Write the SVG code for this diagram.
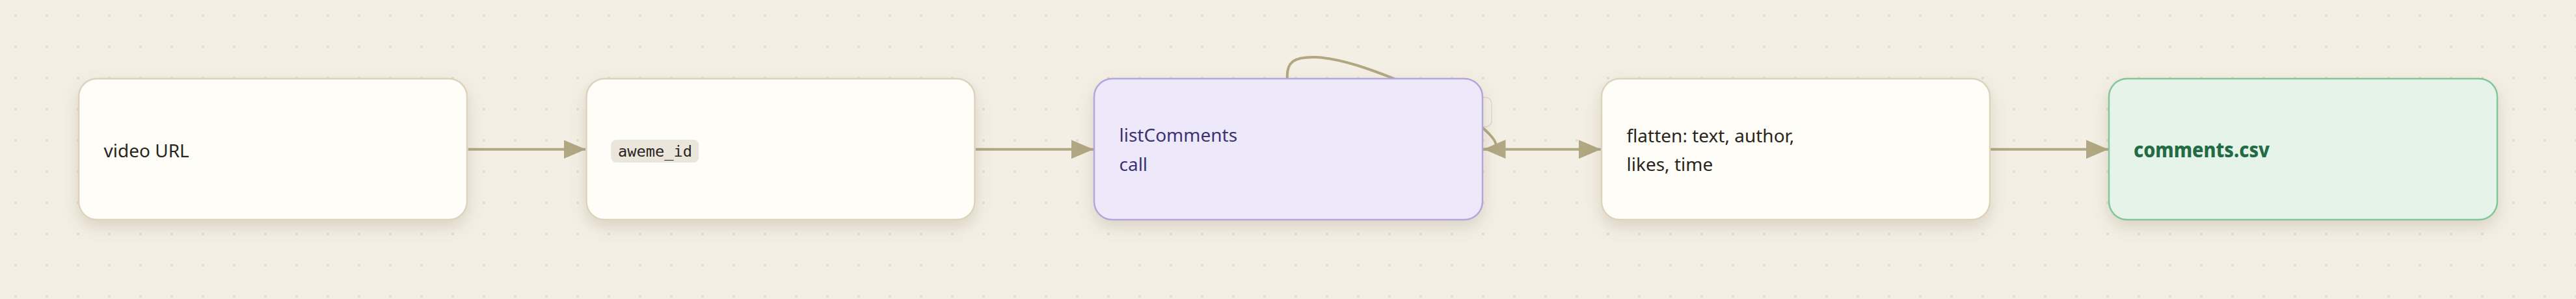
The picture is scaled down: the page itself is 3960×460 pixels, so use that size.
<svg xmlns="http://www.w3.org/2000/svg" width="3960" height="460" viewBox="0 0 3960 460">
  <style>
    .node rect.box { stroke-width: 2.5; }
    .plain rect.box { fill: #fefdf7; stroke: #ddd3bd; }
    .api rect.box { fill: #ede8fa; stroke: #b4a5dc; }
    .out rect.box { fill: #e5f3e9; stroke: #82c69b; }
    .lbl { font-family: "Noto Sans", "Open Sans", "Liberation Sans", sans-serif; font-size: 28px; fill: #2a2520; }
    .api .lbl { fill: #3c3373; }
    .out .lbl { fill: #226b45; font-weight: 800; }
    .code { font-family: "DejaVu Sans Mono", "Liberation Mono", monospace; font-size: 23.7px; fill: #2a2520; }
    .edge { fill: none; stroke: #b1a783; stroke-width: 4; }
  </style>
  <defs>
    <pattern id="dots" width="48" height="48" patternUnits="userSpaceOnUse">
      <circle cx="24" cy="24" r="2" fill="#e0dbcd"/>
    </pattern>
    <filter id="shadow" x="-10%" y="-20%" width="120%" height="160%">
      <feDropShadow dx="0" dy="10" stdDeviation="12" flood-color="#7a6440" flood-opacity="0.2"/>
    </filter>
    <marker id="arrow" markerUnits="userSpaceOnUse" markerWidth="34" markerHeight="29" refX="34" refY="14.5" orient="auto">
      <path d="M0,0 L34,14.5 L0,29 Z" fill="#b1a783"/>
    </marker>
  </defs>

  <rect width="3960" height="460" fill="#f3efe4"/>
  <rect width="3960" height="460" fill="url(#dots)"/>

  <g id="connectors">
    <path class="edge" d="M719.5,229.7 L900.5,229.7" marker-end="url(#arrow)"/>
    <path class="edge" d="M1499.5,229.7 L1681,229.7" marker-end="url(#arrow)"/>
    <rect x="2235" y="150" width="58" height="45" rx="9" fill="#f5f1e7" stroke="#e0d8c5" stroke-width="1.5"/>
    <path class="edge" d="M1979,121 C1977,95 1990,87 2022,88 C2060,89 2110,108 2143,121 C2200,150 2260,180 2282,199 C2294,210 2302,220 2299,226 C2296,229.5 2290,229.5 2280.5,229.5" marker-end="url(#arrow)"/>
    <path class="edge" d="M2280,229.7 L2461,229.7" marker-end="url(#arrow)"/>
    <path class="edge" d="M3060,229.7 L3241,229.7" marker-end="url(#arrow)"/>
  </g>

  <g id="node-video-url" class="node plain">
    <rect class="box" x="121" y="121" width="597" height="217" rx="28" filter="url(#shadow)"/>
    <text class="lbl" x="159.5" y="241.7">video URL</text>
  </g>

  <g id="node-aweme-id" class="node plain">
    <rect class="box" x="901.5" y="121" width="597" height="217" rx="28" filter="url(#shadow)"/>
    <rect x="939.3" y="215" width="135" height="35" rx="8" fill="#ebe6dc"/>
    <text class="code" x="950" y="241">aweme_id</text>
  </g>

  <g id="node-list-comments" class="node api">
    <rect class="box" x="1682" y="121" width="597" height="217" rx="28" filter="url(#shadow)"/>
    <text class="lbl" x="1720.5" y="218.3">listComments</text>
    <text class="lbl" x="1720.5" y="262.7">call</text>
  </g>

  <g id="node-flatten" class="node plain">
    <rect class="box" x="2462" y="121" width="597" height="217" rx="28" filter="url(#shadow)"/>
    <text class="lbl" x="2500.5" y="219.3">flatten: text, author,</text>
    <text class="lbl" x="2500.5" y="263">likes, time</text>
  </g>

  <g id="node-comments-csv" class="node out">
    <rect class="box" x="3242" y="121" width="597" height="217" rx="28" filter="url(#shadow)"/>
    <text class="lbl" x="3280" y="242.3" style="font-size:32px" textLength="209" lengthAdjust="spacingAndGlyphs">comments.csv</text>
  </g>
</svg>
